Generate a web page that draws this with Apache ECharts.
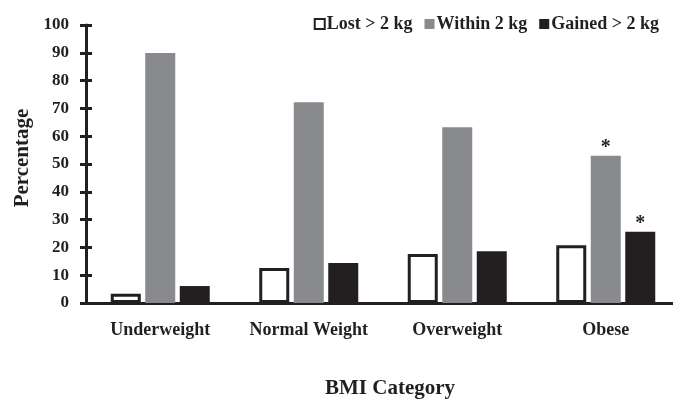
<!DOCTYPE html>
<html>
<head>
<meta charset="utf-8">
<script src="https://cdn.jsdelivr.net/npm/echarts@6/dist/echarts.min.js"></script>
<style>html,body{margin:0;padding:0;background:#fff;}#c{width:673px;height:402px;}</style>
</head>
<body>
<div id="c"></div>
<script>
const categories = ['Underweight', 'Normal Weight', 'Overweight', 'Obese'];
const seriesNames = ['Lost > 2 kg', 'Within 2 kg', 'Gained > 2 kg'];
const lostValues = [3.3, 12.6, 17.6, 20.8];
const withinValues = [89.9, 72.2, 63.2, 53.0];
const gainedValues = [6.1, 14.4, 18.6, 25.6];
const withinMarks = ['', '', '', '*'];
const gainedMarks = ['', '', '', '*'];
const yTicks = { min: 0, max: 100, interval: 10 };

const FONT = '"Liberation Serif", "Times New Roman", serif';
const INK = '#231f20';
const GRAY = '#898a8d';

const chart = echarts.init(document.getElementById('c'), null, { renderer: 'canvas' });

function markLabel(marks) {
  return {
    show: true,
    position: 'top',
    distance: -2,
    formatter: p => marks[p.dataIndex],
    fontFamily: FONT,
    fontWeight: 'bold',
    fontSize: 20,
    color: INK
  };
}

const axisBase = {
  type: 'value',
  min: yTicks.min,
  max: yTicks.max,
  interval: yTicks.interval,
  splitLine: { show: false }
};

chart.setOption({
  animation: false,
  backgroundColor: '#fff',
  textStyle: { fontFamily: FONT },
  legend: {
    data: seriesNames.map(n => ({ name: n, icon: 'rect' })),
    right: 9,
    top: 10,
    itemWidth: 10,
    itemHeight: 10,
    itemGap: 12,
    textStyle: { fontFamily: FONT, fontWeight: 'bold', fontSize: 18, color: INK, padding: [0, 0, 0, -3] },
    selectedMode: false
  },
  grid: { left: 86, top: 25, width: 594, height: 278, containLabel: false, outerBoundsMode: 'none' },
  xAxis: {
    type: 'category',
    data: categories,
    axisLine: { lineStyle: { color: INK, width: 3 } },
    axisTick: { show: false },
    axisLabel: { interval: 0, margin: 18, fontFamily: FONT, fontWeight: 'bold', fontSize: 18, color: INK },
    name: 'BMI Category',
    nameLocation: 'middle',
    nameGap: 75,
    nameTextStyle: { fontFamily: FONT, fontWeight: 'bold', fontSize: 21, color: INK, padding: [0, 0, 0, 14] }
  },
  yAxis: [
    Object.assign({}, axisBase, {
      axisLine: { show: true, lineStyle: { color: INK, width: 3 } },
      axisTick: { show: true, length: 6, inside: false, lineStyle: { color: INK, width: 3 } },
      axisLabel: { margin: 17, fontFamily: FONT, fontWeight: 'bold', fontSize: 17, color: INK },
      name: 'Percentage',
      nameLocation: 'middle',
      nameGap: 48,
      nameTextStyle: { fontFamily: FONT, fontWeight: 'bold', fontSize: 21, color: INK, padding: [0, 0, 0, 12] }
    }),
    Object.assign({}, axisBase, {
      position: 'left',
      offset: -6,
      axisLine: { show: false },
      axisTick: { show: true, length: 6, inside: false, lineStyle: { color: INK, width: 3 } },
      axisLabel: { show: false }
    })
  ],
  series: [
    {
      name: seriesNames[0], type: 'bar', data: lostValues,
      barWidth: 30, barGap: '15%',
      itemStyle: { color: '#ffffff', borderColor: INK, borderWidth: 3 }
    },
    {
      name: seriesNames[1], type: 'bar', data: withinValues,
      barWidth: 30, barGap: '15%',
      itemStyle: { color: GRAY },
      label: markLabel(withinMarks)
    },
    {
      name: seriesNames[2], type: 'bar', data: gainedValues,
      barWidth: 30, barGap: '15%',
      itemStyle: { color: INK },
      label: markLabel(gainedMarks)
    }
  ]
});
</script>
</body>
</html>
